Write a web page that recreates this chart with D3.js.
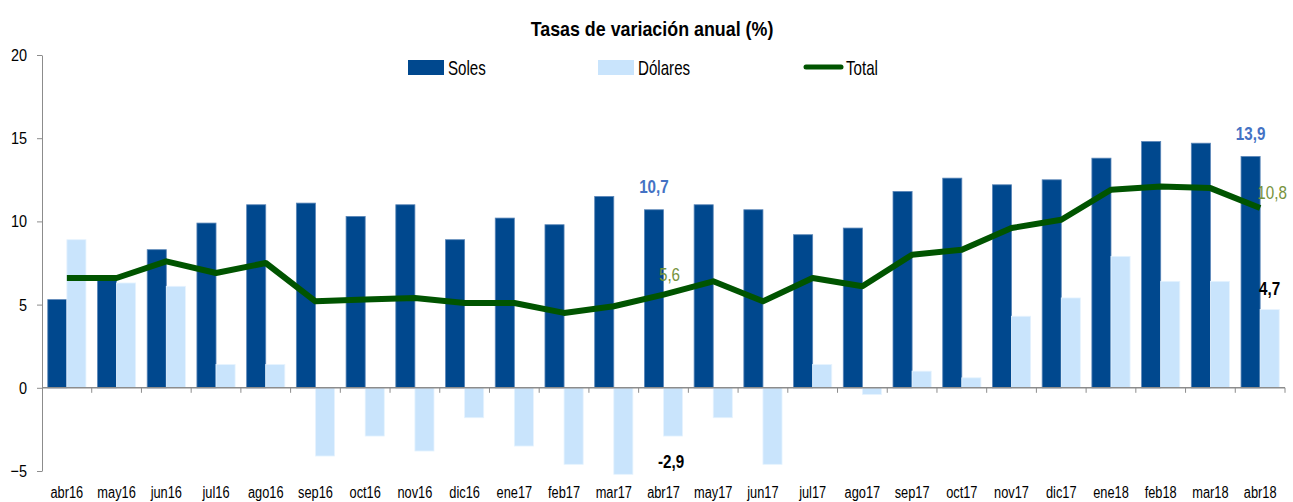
<!DOCTYPE html>
<html>
<head>
<meta charset="utf-8">
<script src="https://cdn.jsdelivr.net/npm/d3@7"></script>
<style>
  body { margin: 0; background: #fff; }
  svg text { font-family: "Liberation Sans Narrow", "Arial Narrow", "Liberation Sans", sans-serif; }
</style>
</head>
<body>
<div id="chart"></div>
<script>
// data
var months = ["abr16","may16","jun16","jul16","ago16","sep16","oct16","nov16","dic16","ene17","feb17","mar17","abr17",
              "may17","jun17","jul17","ago17","sep17","oct17","nov17","dic17","ene18","feb18","mar18","abr18"];
var soles   = [5.3, 6.6, 8.3, 9.9, 11.0, 11.1, 10.3, 11.0, 8.9, 10.2, 9.8, 11.5, 10.7,
               11.0, 10.7, 9.2, 9.6, 11.8, 12.6, 12.2, 12.5, 13.8, 14.8, 14.7, 13.9];
var dolares = [8.9, 6.3, 6.1, 1.4, 1.4, -4.1, -2.9, -3.8, -1.8, -3.5, -4.6, -5.2, -2.9,
               -1.8, -4.6, 1.4, -0.4, 1.0, 0.6, 4.3, 5.4, 7.9, 6.4, 6.4, 4.7];
var total   = [6.6, 6.6, 7.6, 6.9, 7.5, 5.2, 5.3, 5.4, 5.1, 5.1, 4.5, 4.9, 5.6,
               6.4, 5.2, 6.6, 6.1, 8.0, 8.3, 9.6, 10.1, 11.9, 12.1, 12.0, 10.8];
var yTicks = [-5, 0, 5, 10, 15, 20];
var series = ["Soles", "Dólares"];

var W = 1293, H = 502;
var colors = {Soles: "#00488E", "Dólares": "#C9E4FC", Total: "#005400"};

var svg = d3.select("#chart").append("svg")
    .attr("width", W)
    .attr("height", H);

// squeeze text to look like a narrow face
function condense(sel, k) {
  sel.each(function() {
    var w = this.getComputedTextLength();
    d3.select(this).attr("textLength", w * k).attr("lengthAdjust", "spacingAndGlyphs");
  });
}

// scales
var x0 = d3.scaleBand()
    .domain(months)
    .range([42, 1285])
    .paddingInner(0.232)
    .paddingOuter(0.116);
var x1 = d3.scaleBand()
    .domain(series)
    .range([0, x0.bandwidth()]);
var y = d3.scaleLinear()
    .domain([-5, 20])
    .range([471, 55]);

// title
svg.append("text")
    .attr("x", 652).attr("y", 36)
    .attr("text-anchor", "middle")
    .style("font-size", "21px").style("font-weight", "bold")
    .text("Tasas de variación anual (%)")
    .call(condense, 0.85);

// bars
var rows = months.map(function(m, i) { return {m: m, Soles: soles[i], "Dólares": dolares[i]}; });
svg.append("g")
  .selectAll("g")
  .data(rows)
  .enter().append("g")
    .attr("transform", function(d) { return "translate(" + x0(d.m) + ",0)"; })
  .selectAll("rect")
  .data(function(d) { return series.map(function(k) { return {key: k, value: d[k]}; }); })
  .enter().append("rect")
    .attr("x", function(d) { return x1(d.key); })
    .attr("width", x1.bandwidth())
    .attr("y", function(d) { return y(Math.max(0, d.value)); })
    .attr("height", function(d) { return Math.abs(y(d.value) - y(0)); })
    .attr("fill", function(d) { return colors[d.key]; })
    .attr("stroke", function(d) { return d.key == "Soles" ? "#5a86b8" : "#e6f3fe"; })
    .attr("stroke-width", 0.8);

// y axis
var yAxis = svg.append("g")
    .attr("transform", "translate(42,0)")
    .call(d3.axisLeft(y).tickValues(yTicks).tickSize(5).tickSizeOuter(0).tickFormat(d3.format("d")));
yAxis.select(".domain").attr("stroke", "#8c8c8c");
yAxis.selectAll(".tick line").attr("stroke", "#8c8c8c");
yAxis.selectAll(".tick text")
    .attr("x", -15)
    .style("font-size", "17px").attr("fill", "#000")
    .call(condense, 0.85);

// x axis on the zero line, ticks at band edges
svg.append("line")
    .attr("x1", 42).attr("x2", 1285)
    .attr("y1", y(0)).attr("y2", y(0))
    .attr("stroke", "#8c8c8c").attr("stroke-width", 1.5);
var edges = months.map(function(m) { return x0(m) - x0.step() * x0.paddingOuter(); });
edges.push(1285);
svg.append("g").selectAll("line")
    .data(edges.slice(1))
    .enter().append("line")
    .attr("x1", function(d) { return d; }).attr("x2", function(d) { return d; })
    .attr("y1", y(0)).attr("y2", y(0) + 5)
    .attr("stroke", "#8c8c8c");
svg.append("g").selectAll("text")
    .data(months)
    .enter().append("text")
    .attr("x", function(d) { return x0(d) + x0.bandwidth() / 2; })
    .attr("y", 498)
    .attr("text-anchor", "middle")
    .style("font-size", "16px")
    .text(function(d) { return d; })
    .call(condense, 0.8);

// total line
var line = d3.line()
    .x(function(d, i) { return x0(months[i]) + x0.bandwidth() / 2; })
    .y(function(d) { return y(d); });
svg.append("path")
    .datum(total)
    .attr("d", line)
    .attr("fill", "none")
    .attr("stroke", colors.Total)
    .attr("stroke-width", 6)
    .attr("stroke-linejoin", "round");

// value labels
var iA = months.indexOf("abr17"), iL = months.length - 1;
var labels = [
  {x: x0(months[iA]) + x1("Soles") + x1.bandwidth() / 2, y: y(soles[iA]) - 17, t: "10,7", c: "#4472C4", b: true},
  {x: x0(months[iA]) + x0.bandwidth() / 2 + 6, y: y(total[iA]) - 14, t: "5,6", c: "#76923C", b: false},
  {x: x0(months[iA]) + x1("Dólares") + x1.bandwidth() / 2 - 2, y: y(dolares[iA]) + 32, t: "-2,9", c: "#000", b: true},
  {x: x0(months[iL]) + x1("Soles") + x1.bandwidth() / 2, y: y(soles[iL]) - 17, t: "13,9", c: "#4472C4", b: true},
  {x: x0(months[iL]) + x0.bandwidth() / 2 + 12, y: y(total[iL]) - 9, t: "10,8", c: "#76923C", b: false},
  {x: x0(months[iL]) + x1("Dólares") + x1.bandwidth() / 2, y: y(dolares[iL]) - 15, t: "4,7", c: "#000", b: true}
];
svg.append("g").selectAll("text")
    .data(labels)
    .enter().append("text")
    .attr("x", function(d) { return d.x; })
    .attr("y", function(d) { return d.y; })
    .attr("text-anchor", "middle")
    .attr("fill", function(d) { return d.c; })
    .style("font-size", "19px")
    .style("font-weight", function(d) { return d.b ? "bold" : "normal"; })
    .text(function(d) { return d.t; })
    .call(condense, 0.8);

// legend
var leg = svg.append("g").style("font-size", "21px");
leg.append("rect").attr("x", 408).attr("y", 60).attr("width", 36).attr("height", 15).attr("fill", colors.Soles);
leg.append("text").attr("x", 448).attr("y", 75).text("Soles");
leg.append("rect").attr("x", 598).attr("y", 60).attr("width", 36).attr("height", 15).attr("fill", colors["Dólares"]);
leg.append("text").attr("x", 638).attr("y", 75).text("Dólares");
leg.append("line").attr("x1", 806).attr("x2", 841).attr("y1", 67).attr("y2", 67)
    .attr("stroke", colors.Total).attr("stroke-width", 5).attr("stroke-linecap", "round");
leg.append("text").attr("x", 846).attr("y", 75).text("Total");
leg.selectAll("text").call(condense, 0.72);
</script>
</body>
</html>
